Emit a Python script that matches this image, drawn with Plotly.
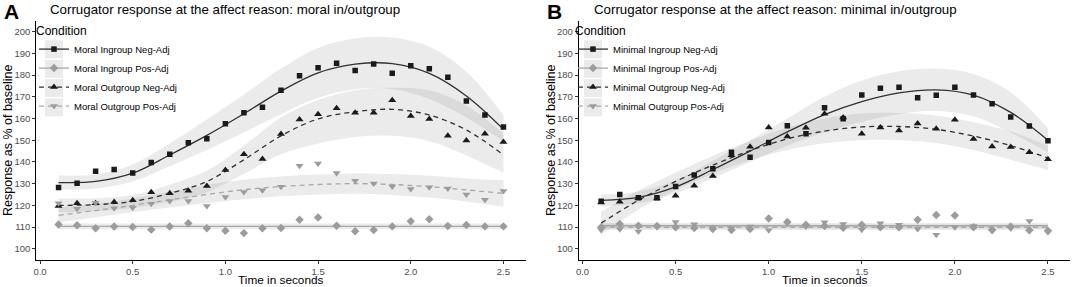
import plotly.graph_objects as go

W, H = 1072, 287

# ---------------- data ----------------
time_s = [0.1, 0.2, 0.3, 0.4, 0.5, 0.6, 0.7, 0.8, 0.9, 1.0, 1.1, 1.2, 1.3,
          1.4, 1.5, 1.6, 1.7, 1.8, 1.9, 2.0, 2.1, 2.2, 2.3, 2.4, 2.5]
fit_t = [0.1, 0.3, 0.5, 0.7, 0.9, 1.1, 1.3, 1.5, 1.7, 1.9, 2.1, 2.3, 2.5]

x_ticks = [0.0, 0.5, 1.0, 1.5, 2.0, 2.5]
y_ticks = [100, 110, 120, 130, 140, 150, 160, 170, 180, 190, 200]

# Panel A: moral in/outgroup
moral_in_neg = [128.2, 130.2, 135.7, 136.5, 134.9, 139.7, 143.5, 148.8, 150.7, 157.6, 162.6, 165.2, 173.0,
                179.7, 183.4, 185.4, 182.1, 185.1, 180.8, 184.3, 182.9, 179.0, 168.1, 161.6, 156.1]
moral_in_pos = [111.2, 110.8, 109.4, 110.2, 110.0, 108.8, 110.2, 111.7, 109.4, 108.3, 107.2, 109.4, 109.6,
                113.4, 114.4, 110.6, 108.1, 108.6, 110.3, 112.7, 113.6, 110.5, 110.9, 110.3, 110.3]
moral_out_neg = [119.7, 120.9, 120.9, 121.5, 122.3, 126.0, 125.6, 126.7, 128.9, 136.3, 143.5, 141.3, 152.9,
                 159.5, 162.0, 164.7, 162.6, 162.7, 168.4, 161.1, 159.8, 152.0, 149.9, 153.0, 149.2]
moral_out_pos = [120.9, 118.4, 121.2, 118.6, 118.9, 120.7, 122.0, 122.0, 119.7, 123.8, 126.1, 126.9, 128.6,
                 138.2, 139.3, 134.9, 131.3, 130.1, 128.7, 127.5, 128.3, 127.8, 125.0, 122.6, 126.6]

moral_in_neg_fit = [130.5, 131.0, 134.8, 143.2, 152.2, 162.2, 172.6, 181.0, 185.0, 185.3, 180.8, 170.4, 155.0]
moral_in_neg_lo = [127.2, 127.8, 131.0, 138.0, 145.5, 153.5, 162.0, 169.5, 173.5, 173.5, 169.0, 160.5, 149.5]
moral_in_neg_hi = [133.8, 134.2, 138.8, 148.5, 159.5, 171.0, 183.0, 192.5, 196.8, 197.3, 193.0, 181.5, 161.5]
moral_in_pos_fit = [110.3, 110.3, 110.3, 110.3, 110.3, 110.3, 110.3, 110.3, 110.3, 110.3, 110.3, 110.3, 110.3]
moral_in_pos_lo = [109.0, 109.0, 109.0, 109.0, 109.0, 109.0, 109.0, 109.0, 109.0, 109.0, 109.0, 109.0, 109.0]
moral_in_pos_hi = [111.6, 111.6, 111.6, 111.6, 111.6, 111.6, 111.6, 111.6, 111.6, 111.6, 111.6, 111.6, 111.6]
moral_out_neg_fit = [120.0, 120.3, 121.8, 125.5, 131.0, 141.0, 152.0, 159.8, 163.1, 164.2, 161.6, 154.7, 143.2]
moral_out_neg_lo = [116.8, 117.3, 118.8, 121.5, 126.0, 134.5, 143.5, 148.5, 151.5, 152.0, 149.5, 143.0, 135.0]
moral_out_neg_hi = [123.2, 123.3, 124.8, 129.5, 136.0, 147.5, 160.5, 168.5, 173.0, 174.2, 173.0, 166.0, 153.0]
moral_out_pos_fit = [115.4, 117.6, 120.0, 122.5, 125.0, 127.2, 128.7, 129.6, 130.0, 129.6, 128.6, 127.1, 125.5]
moral_out_pos_lo = [112.0, 114.5, 116.8, 119.0, 121.0, 122.8, 124.2, 125.0, 125.3, 124.8, 123.6, 121.8, 119.4]
moral_out_pos_hi = [119.0, 120.8, 123.2, 126.2, 129.5, 131.8, 133.3, 134.2, 134.7, 134.4, 133.6, 132.4, 131.6]

# Panel B: minimal in/outgroup
min_in_neg = [121.9, 125.0, 123.5, 123.5, 128.7, 134.0, 136.8, 144.5, 142.1, 148.9, 156.6, 153.0, 165.0,
              159.9, 170.8, 173.9, 174.4, 169.6, 170.7, 174.4, 170.8, 166.8, 160.7, 156.5, 149.8]
min_in_pos = [109.9, 111.4, 110.6, 110.5, 109.9, 109.6, 109.1, 108.6, 109.1, 113.9, 112.3, 111.1, 110.5,
              109.7, 111.1, 109.9, 109.9, 113.4, 115.5, 115.3, 109.9, 108.6, 110.2, 108.5, 108.3]
min_out_neg = [121.3, 121.6, 123.3, 123.2, 124.4, 129.0, 133.5, 143.1, 147.0, 155.9, 151.7, 155.7, 162.2,
               160.5, 153.0, 155.9, 154.5, 157.7, 155.3, 159.4, 150.6, 147.1, 146.9, 144.5, 141.2]
min_out_pos = [108.6, 109.0, 108.0, 110.0, 112.3, 111.3, 109.6, 109.4, 110.2, 108.5, 111.6, 110.2, 112.2,
               111.4, 108.8, 111.7, 111.1, 109.1, 106.4, 109.9, 110.5, 108.3, 109.3, 112.8, 107.7]

min_in_neg_fit = [122.3, 123.7, 128.5, 136.5, 145.0, 153.8, 161.8, 167.8, 171.8, 173.2, 170.8, 162.8, 150.0]
min_in_neg_lo = [119.6, 121.0, 125.5, 132.5, 140.0, 147.5, 153.5, 158.5, 162.0, 163.5, 161.0, 153.5, 144.5]
min_in_neg_hi = [125.0, 126.4, 131.5, 140.5, 150.0, 160.0, 170.0, 177.5, 181.8, 183.0, 180.5, 172.0, 155.5]
min_in_pos_fit = [110.6, 110.6, 110.6, 110.6, 110.6, 110.6, 110.6, 110.6, 110.6, 110.6, 110.6, 110.6, 110.6]
min_in_pos_lo = [109.3, 109.3, 109.3, 109.3, 109.3, 109.3, 109.3, 109.3, 109.3, 109.3, 109.3, 109.3, 109.3]
min_in_pos_hi = [111.9, 111.9, 111.9, 111.9, 111.9, 111.9, 111.9, 111.9, 111.9, 111.9, 111.9, 111.9, 111.9]
min_out_neg_fit = [111.8, 122.3, 131.0, 138.5, 145.2, 150.6, 154.2, 156.1, 156.3, 155.0, 151.9, 147.5, 141.8]
min_out_neg_lo = [106.5, 118.0, 127.0, 134.5, 140.8, 145.5, 148.6, 150.0, 150.0, 148.7, 145.5, 141.0, 136.3]
min_out_neg_hi = [117.0, 126.8, 135.0, 142.8, 149.8, 155.8, 160.0, 162.3, 162.5, 161.3, 158.3, 154.0, 147.5]
min_out_pos_fit = [109.9, 109.9, 109.9, 109.9, 109.9, 109.9, 109.9, 109.9, 109.9, 109.9, 109.9, 109.9, 109.9]
min_out_pos_lo = [108.6, 108.6, 108.6, 108.6, 108.6, 108.6, 108.6, 108.6, 108.6, 108.6, 108.6, 108.6, 108.6]
min_out_pos_hi = [111.2, 111.2, 111.2, 111.2, 111.2, 111.2, 111.2, 111.2, 111.2, 111.2, 111.2, 111.2, 111.2]

labels_a = ["Moral Ingroup Neg-Adj", "Moral Ingroup Pos-Adj", "Moral Outgroup Neg-Adj", "Moral Outgroup Pos-Adj"]
labels_b = ["Minimal Ingroup Neg-Adj", "Minimal Ingroup Pos-Adj", "Minimal Outgroup Neg-Adj", "Minimal Outgroup Pos-Adj"]
titles = ["Corrugator response at the affect reason: moral in/outgroup",
          "Corrugator response at the affect reason: minimal in/outgroup"]

# ---------------- styling ----------------
FONT = "Arial, Liberation Sans, Helvetica, sans-serif"
DARK, DARK_LINE = "#1a1a1a", "#303030"
GREY, GREY_LINE = "#9c9c9c", "#a8a8a8"
RIBBON = "rgba(150,150,150,0.19)"
styles = [  # marker symbol, marker colour, line colour, dash, marker size
    ("square", DARK, DARK_LINE, "solid", 5.5),
    ("diamond", GREY, GREY_LINE, "solid", 6.5),
    ("triangle-up", DARK, DARK_LINE, "5px,4px", 7),
    ("triangle-down", GREY, GREY_LINE, "5px,4px", 7),
]

panels = [
    dict(xa="x", ya="y", leg="legend", labels=labels_a,
         pts=[moral_in_neg, moral_in_pos, moral_out_neg, moral_out_pos],
         fits=[moral_in_neg_fit, moral_in_pos_fit, moral_out_neg_fit, moral_out_pos_fit],
         los=[moral_in_neg_lo, moral_in_pos_lo, moral_out_neg_lo, moral_out_pos_lo],
         his=[moral_in_neg_hi, moral_in_pos_hi, moral_out_neg_hi, moral_out_pos_hi]),
    dict(xa="x2", ya="y2", leg="legend2", labels=labels_b,
         pts=[min_in_neg, min_in_pos, min_out_neg, min_out_pos],
         fits=[min_in_neg_fit, min_in_pos_fit, min_out_neg_fit, min_out_pos_fit],
         los=[min_in_neg_lo, min_in_pos_lo, min_out_neg_lo, min_out_pos_lo],
         his=[min_in_neg_hi, min_in_pos_hi, min_out_neg_hi, min_out_pos_hi]),
]

fig = go.Figure()
for p in panels:
    # ribbons
    for lo, hi in zip(p["los"], p["his"]):
        fig.add_trace(go.Scatter(x=fit_t, y=lo, mode="lines", line=dict(width=0, shape="spline"),
                                 showlegend=False, hoverinfo="skip", xaxis=p["xa"], yaxis=p["ya"]))
        fig.add_trace(go.Scatter(x=fit_t, y=hi, mode="lines", line=dict(width=0, shape="spline"),
                                 fill="tonexty", fillcolor=RIBBON,
                                 showlegend=False, hoverinfo="skip", xaxis=p["xa"], yaxis=p["ya"]))
    # fitted lines
    for fit, st in zip(p["fits"], styles):
        fig.add_trace(go.Scatter(x=fit_t, y=fit, mode="lines",
                                 line=dict(color=st[2], width=1.3, dash=st[3], shape="spline"),
                                 showlegend=False, hoverinfo="skip", xaxis=p["xa"], yaxis=p["ya"]))
    # points
    for pts, st, lab in zip(p["pts"], styles, p["labels"]):
        fig.add_trace(go.Scatter(x=time_s, y=pts, mode="markers", name=lab,
                                 marker=dict(symbol=st[0], color=st[1], size=st[4], line=dict(width=0)),
                                 showlegend=False, xaxis=p["xa"], yaxis=p["ya"]))
    # legend entries
    for st, lab in zip(styles, p["labels"]):
        fig.add_trace(go.Scatter(x=[None], y=[None], mode="lines+markers", name=lab,
                                 line=dict(color=st[2], width=1.3, dash=st[3]),
                                 marker=dict(symbol=st[0], color=st[1], size=st[4]),
                                 legend=p["leg"], xaxis=p["xa"], yaxis=p["ya"]))

def px(x):
    return x / W

def py(y):
    return 1 - y / H

axis_common = dict(showline=True, linecolor="#000000", linewidth=1, ticks="outside", ticklen=3,
                   tickcolor="#333333", tickwidth=1, showgrid=False, zeroline=False, automargin=False,
                   tickfont=dict(family=FONT, size=9.5, color="#4d4d4d"))
ydom = [py(259.6), py(20.8)]
fig.update_layout(
    width=W, height=H, margin=dict(l=0, r=0, t=0, b=0, autoexpand=False),
    plot_bgcolor="white", paper_bgcolor="white",
    font=dict(family=FONT, color="#000000"),
    xaxis=dict(domain=[px(36.3), px(525.7)], range=[-0.02, 2.62], tickvals=x_ticks, tickformat=".1f",
               anchor="y", **axis_common),
    yaxis=dict(domain=ydom, range=[95, 205], tickvals=y_ticks, anchor="x", **axis_common),
    xaxis2=dict(domain=[px(578.8), px(1070.3)], range=[-0.02, 2.62], tickvals=x_ticks, tickformat=".1f",
                anchor="y2", **axis_common),
    yaxis2=dict(domain=ydom, range=[95, 205], tickvals=y_ticks, anchor="x2", **axis_common),
)

leg_common = dict(xanchor="left", yanchor="top", bgcolor="rgba(0,0,0,0)", traceorder="normal",
                  font=dict(family=FONT, size=9.5, color="#000000"),
                  title=dict(text="Condition", font=dict(family=FONT, size=12)),
                  itemclick=False, itemdoubleclick=False, tracegroupgap=0)
LEG_TOP = 19
fig.update_layout(legend=dict(x=px(34), y=py(LEG_TOP), **leg_common),
                  legend2=dict(x=px(573), y=py(LEG_TOP), **leg_common))

# legend key backgrounds
for x0 in (45, 584):
    for yc in (49.3, 68.8, 88.1, 107.4):
        fig.add_shape(type="rect", xref="paper", yref="paper", x0=px(x0), x1=px(x0 + 18),
                      y0=py(yc + 9), y1=py(yc - 9), fillcolor="rgba(150,150,150,0.19)", line=dict(width=0),
                      layer="below")

# titles, panel letters, axis titles
ann = []
for (lx, tx, xmid, ytx), title, letter in zip([(2, 48, 281, 8), (545, 591.5, 824.5, 551)], titles, ["A", "B"]):
    ann.append(dict(text="<b>" + letter + "</b>", x=px(lx), y=py(11), xref="paper", yref="paper",
                    xanchor="left", yanchor="middle", showarrow=False,
                    font=dict(family=FONT, size=21, color="#000")))
    ann.append(dict(text=title, x=px(tx), y=py(9.5), xref="paper", yref="paper", xanchor="left",
                    yanchor="middle", showarrow=False, font=dict(family=FONT, size=13.3, color="#000")))
    ann.append(dict(text="Time in seconds", x=px(xmid), y=py(280.3), xref="paper", yref="paper",
                    xanchor="center", yanchor="middle", showarrow=False, borderpad=0,
                    font=dict(family=FONT, size=11.8, color="#000")))
    ann.append(dict(text="Response as % of baseline", x=px(ytx), y=py(140), xref="paper", yref="paper",
                    xanchor="center", yanchor="middle", textangle=-90, showarrow=False,
                    font=dict(family=FONT, size=12.5, color="#000")))
fig.update_layout(annotations=ann)

fig.write_html("out.html", config={"displayModeBar": False},
               post_script="document.body.style.margin='0';")
